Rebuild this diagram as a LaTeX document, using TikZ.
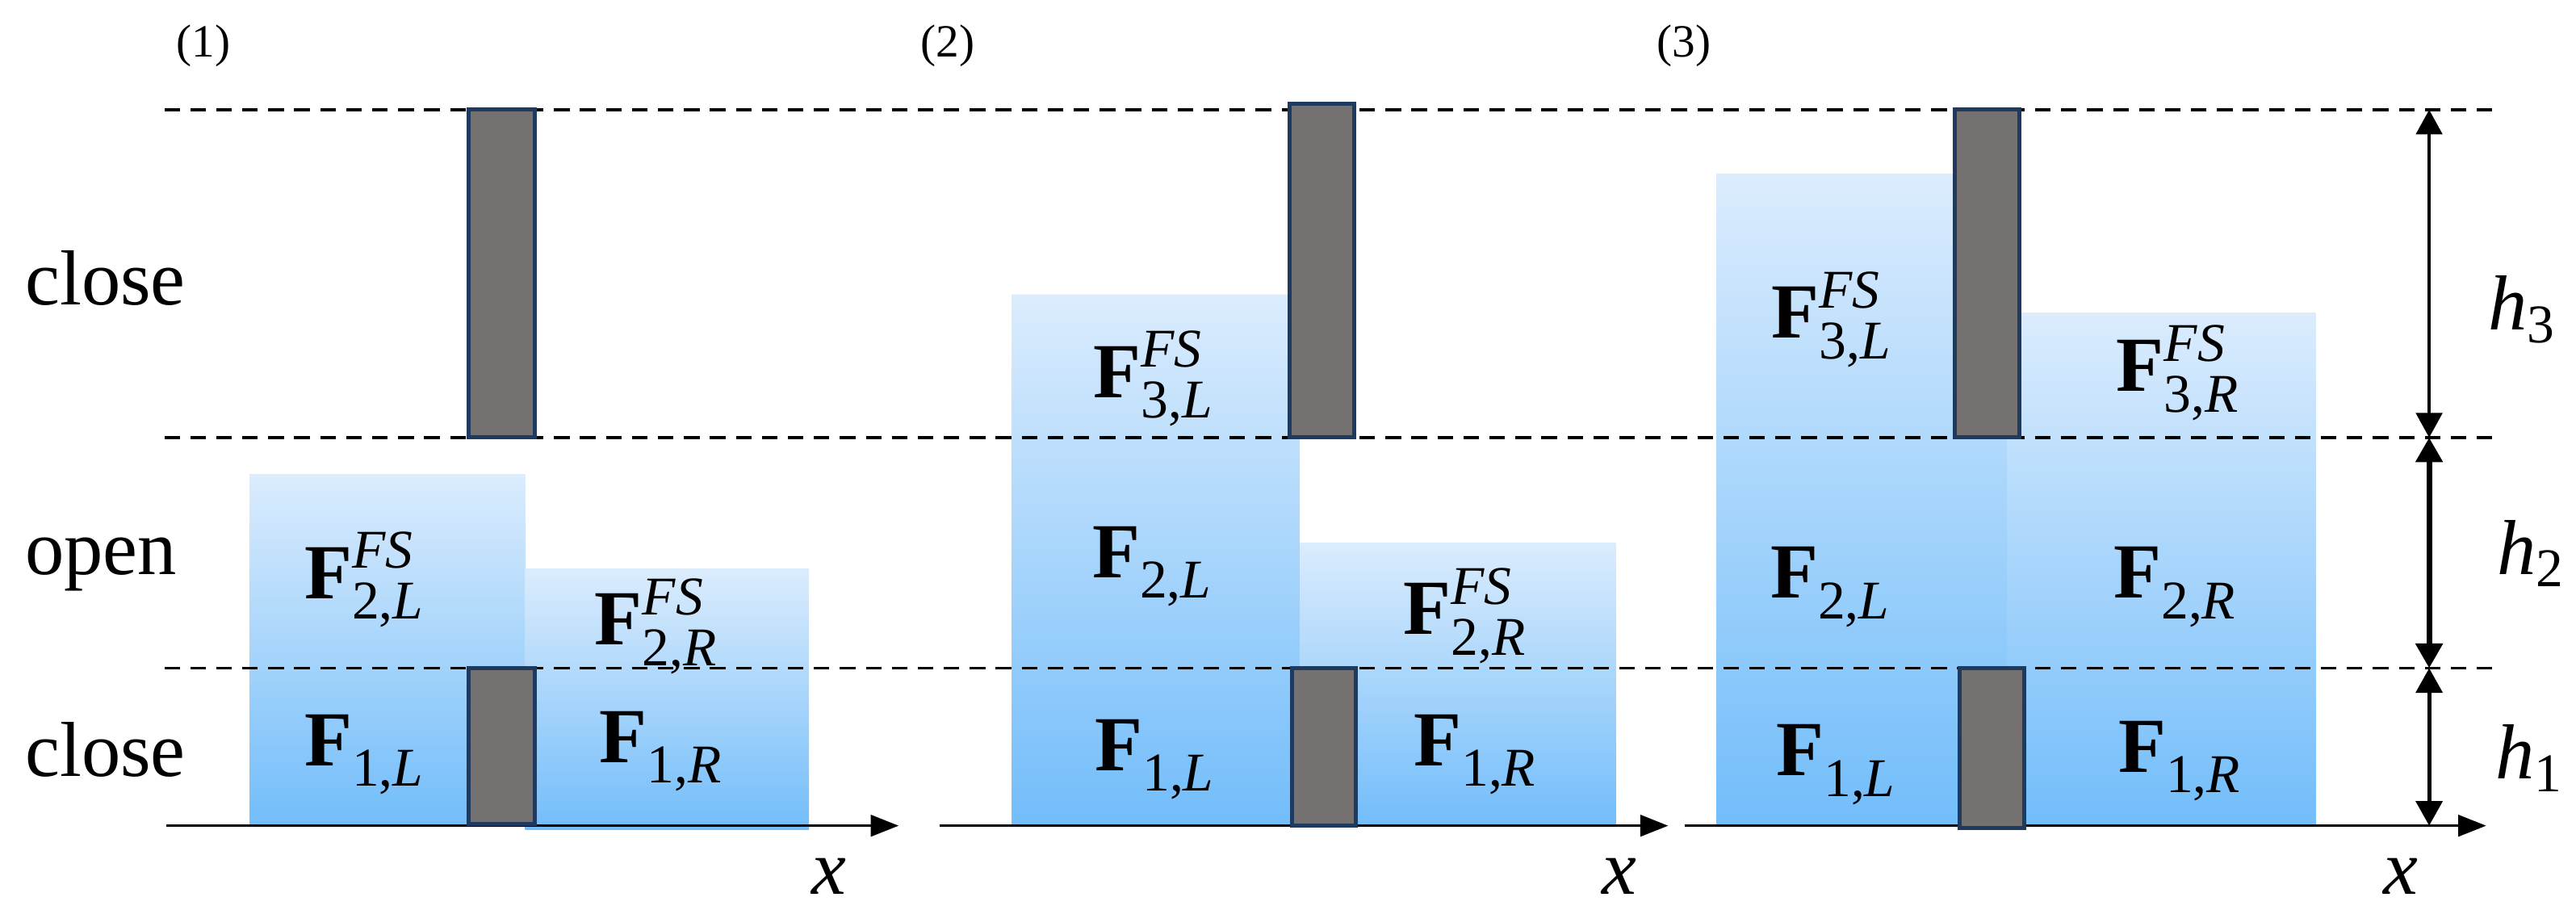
\documentclass[tikz,border=0pt]{standalone}
\usepackage{fontspec}
\setmainfont{Liberation Serif}
\usepackage{amsmath}
\usetikzlibrary{arrows.meta}
\definecolor{WaterTop}{HTML}{DBECFD}
\definecolor{WaterBot}{HTML}{72BDFA}
\definecolor{GateFill}{HTML}{767171}
\definecolor{GateLine}{HTML}{1F3A5F}
\tikzset{
 water/.style={top color=WaterTop, bottom color=WaterBot, draw=none},
 gate/.style={fill=GateFill, draw=GateLine, line width=0.7pt},
 sepline/.style={dash pattern=on 2.7pt off 1.8pt, line width=0.55pt},
 xaxis/.style={-{Triangle[length=0.17cm,width=0.13cm]}, line width=0.5pt},
 hmark/.style={{Triangle[length=0.15cm,width=0.16cm]}-{Triangle[length=0.15cm,width=0.16cm]}},
 lab/.style={font=\rmfamily\fontsize{13.5}{16}\selectfont, inner sep=0pt, anchor=base},
 mode/.style={lab, anchor=base west},
 tag/.style={font=\rmfamily\fontsize{8}{10}\selectfont, inner sep=0pt}
}
\newcommand{\Fv}[3]{\textbf{F}\ensuremath{_{\text{#1,\textit{#2}}}^{\textit{#3}}}}
\newcommand{\hv}[1]{\textit{h}\ensuremath{_{\text{#1}}}}

\begin{document}
\begin{tikzpicture}
\useasboundingbox (0,0) rectangle (15.68,5.56);
% water columns
\shade[water] (1.519,0.535) rectangle (3.197,2.674);
\shade[water] (3.197,0.51) rectangle (4.924,2.097);
\shade[water] (6.157,0.535) -- (6.157,3.768) -- (7.85,3.768) -- (7.85,2.897) -- (7.913,2.897) -- (7.913,0.535) -- cycle;
\shade[water] (7.913,0.535) rectangle (9.834,2.257);
\shade[water] (10.45,0.535) rectangle (12.219,4.503);
\shade[water] (12.219,0.535) rectangle (14.096,3.657);
% gate levels
\coordinate (l3a) at (1.00,4.892);
\coordinate (l3b) at (15.205,4.892);
\coordinate (l2a) at (1.00,2.897);
\coordinate (l2b) at (15.205,2.897);
\coordinate (l1a) at (1.00,1.494);
\coordinate (l1b) at (15.205,1.494);
\draw[sepline] (l3a) -- (l3b);
\draw[sepline] (l2a) -- (l2b);
\draw[sepline] (l1a) -- (l1b);
% x axes
\coordinate (o1) at (1.011,0.535);
\coordinate (e1) at (5.47,0.535);
\coordinate (o2) at (5.718,0.535);
\coordinate (e2) at (10.154,0.535);
\coordinate (o3) at (10.253,0.535);
\coordinate (e3) at (15.133,0.535);
\draw[xaxis] (o1) -- (e1);
\draw[xaxis] (o2) -- (e2);
\draw[xaxis] (o3) -- (e3);
% gates
\draw[gate] (2.853,2.897) rectangle (3.254,4.892);
\draw[gate] (2.853,0.545) rectangle (3.254,1.494);
\draw[gate] (7.85,2.897) rectangle (8.242,4.93);
\draw[gate] (7.866,0.535) rectangle (8.251,1.494);
\draw[gate] (11.897,2.897) rectangle (12.29,4.892);
\draw[gate] (11.926,0.52) rectangle (12.319,1.494);
% heights
\coordinate (t3) at (14.786,4.892);
\coordinate (t2) at (14.786,2.897);
\coordinate (t1) at (14.786,1.494);
\coordinate (t0) at (14.786,0.535);
\draw[hmark, line width=0.5pt] (t3) -- (t2);
\draw[hmark, line width=1pt] (t2) -- (t1);
\draw[hmark, line width=0.7pt] (t1) -- (t0);
\node[lab] (h3) at (15.356,3.551) {\hv{3}};
\node[lab] (h2) at (15.41,2.064) {\hv{2}};
\node[lab] (h1) at (15.40,0.82) {\hv{1}};
% gate states
\node[mode] (close3) at (0.147,3.704) {close};
\node[mode] (open2) at (0.147,2.063) {open};
\node[mode] (close1) at (0.147,0.834) {close};
% stages
\node[tag] (s1) at (1.238,5.28) {(1)};
\node[tag] (s2) at (5.77,5.28) {(2)};
\node[tag] (s3) at (10.25,5.28) {(3)};
% stage 1
\node[lab] (a2l) at (2.224,1.918) {\Fv{2}{L}{FS}};
\node[lab] (a2r) at (4.00,1.636) {\Fv{2}{R}{FS}};
\node[lab] (a1l) at (2.224,0.90) {\Fv{1}{L}{}};
\node[lab] (a1r) at (4.03,0.92) {\Fv{1}{R}{}};
\node[lab] (ax) at (5.045,0.12) {\textit{x}};
% stage 2
\node[lab] (b3l) at (7.026,3.141) {\Fv{3}{L}{FS}};
\node[lab] (b2l) at (7.019,2.045) {\Fv{2}{L}{}};
\node[lab] (b2r) at (8.922,1.70) {\Fv{2}{R}{FS}};
\node[lab] (b1l) at (7.035,0.87) {\Fv{1}{L}{}};
\node[lab] (b1r) at (8.985,0.90) {\Fv{1}{R}{}};
\node[lab] (bx) at (9.856,0.12) {\textit{x}};
% stage 3
\node[lab] (c3l) at (11.154,3.502) {\Fv{3}{L}{FS}};
\node[lab] (c3r) at (13.263,3.179) {\Fv{3}{R}{FS}};
\node[lab] (c2l) at (11.147,1.919) {\Fv{2}{L}{}};
\node[lab] (c2r) at (13.245,1.919) {\Fv{2}{R}{}};
\node[lab] (c1l) at (11.182,0.84) {\Fv{1}{L}{}};
\node[lab] (c1r) at (13.274,0.86) {\Fv{1}{R}{}};
\node[lab] (cx) at (14.615,0.12) {\textit{x}};
\end{tikzpicture}
\end{document}
